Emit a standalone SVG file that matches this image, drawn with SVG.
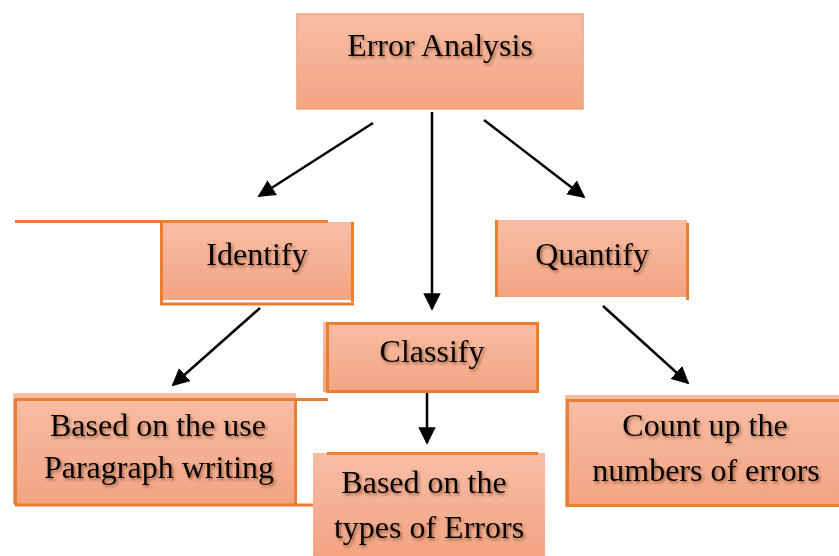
<svg xmlns="http://www.w3.org/2000/svg" width="839" height="556" viewBox="0 0 839 556">
<defs>
<linearGradient id="g" x1="0" y1="0" x2="0" y2="1">
<stop offset="0" stop-color="#f7bea6"/>
<stop offset="1" stop-color="#f3a483"/>
</linearGradient>
<filter id="sh" x="-10%" y="-30%" width="120%" height="160%">
<feDropShadow dx="1.5" dy="2" stdDeviation="1.6" flood-color="#5a2e18" flood-opacity="0.6"/>
</filter>
<marker id="ah" viewBox="0 0 10 10" refX="9" refY="5" markerWidth="7" markerHeight="7" markerUnits="strokeWidth" orient="auto">
<path d="M0,0 L10,5 L0,10 z" fill="#000"/>
</marker>
</defs>
<style>
.fill{fill:url(#g);}
.ob{fill:none;stroke:#ed7d31;stroke-width:3;}
.t{font-family:"Liberation Serif","Times New Roman",serif;font-size:32px;fill:#000;text-anchor:middle;filter:url(#sh);}
.c{stroke:#000;stroke-width:2.5;fill:none;marker-end:url(#ah);}
</style>
<rect width="839" height="556" fill="#fff"/>

<g id="connectors">
<line class="c" x1="373" y1="123" x2="259" y2="196"/>
<line class="c" x1="432" y1="112" x2="432" y2="309"/>
<line class="c" x1="484" y1="120" x2="584" y2="197"/>
<line class="c" x1="260" y1="308" x2="173" y2="385"/>
<line class="c" x1="603" y1="306" x2="688" y2="383"/>
<line class="c" x1="427" y1="393" x2="427" y2="443"/>
</g>

<g id="error-analysis">
<rect x="297" y="14" width="286" height="95" class="fill" stroke="#f0a27a" stroke-width="1.5"/>
<text class="t" x="440" y="56">Error Analysis</text>
</g>

<g id="identify">
<rect x="161" y="222" width="192" height="78" class="fill"/>
<path class="ob" d="M15,221.5 H328 M161.5,221 V304 M160,304 H354 M352.5,222 V302"/>
<text class="t" x="257" y="265">Identify</text>
</g>

<g id="quantify">
<rect x="495" y="220" width="192" height="77" class="fill"/>
<path class="ob" d="M496.5,220 V297 M687.5,223 V300"/>
<text class="t" x="592" y="265">Quantify</text>
</g>

<g id="classify">
<rect x="323" y="322" width="215" height="70" class="fill"/>
<rect x="327.5" y="323.5" width="210" height="68" class="ob"/>
<text class="t" x="432" y="362">Classify</text>
</g>

<g id="based-on-use">
<rect x="13" y="393" width="283" height="111" class="fill"/>
<path class="ob" d="M15,399.5 H328 M15.5,399 V505 M15,505 H328 M295.5,399 V505"/>
<text class="t" x="158" y="436">Based on the use</text>
<text class="t" x="159" y="478">Paragraph writing</text>
</g>

<g id="based-on-types">
<rect x="313" y="453" width="232" height="103" class="fill"/>
<path class="ob" d="M327,453.5 H538"/>
<text class="t" x="424" y="493">Based on the</text>
<text class="t" x="429" y="538">types of Errors</text>
</g>

<g id="count-up">
<rect x="565" y="395" width="274" height="112" class="fill"/>
<path class="ob" d="M841,400.5 H567.5 V505.5 H841"/>
<text class="t" x="705" y="436">Count up the</text>
<text class="t" x="706" y="481">numbers of errors</text>
</g>
</svg>
